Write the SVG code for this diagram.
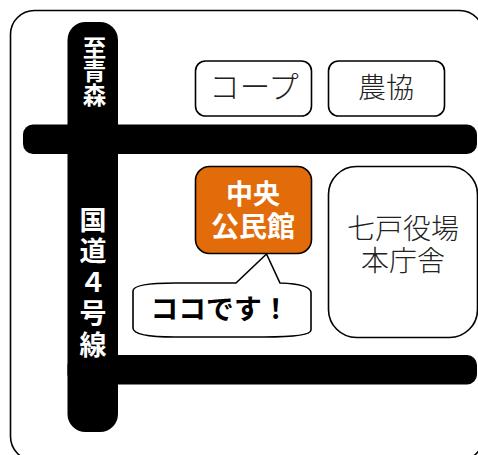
<svg xmlns="http://www.w3.org/2000/svg" width="478" height="455" viewBox="0 0 478 455">
<style>
.f{font-family:"Noto Sans CJK JP","Noto Sans",sans-serif;text-anchor:middle}
.b{fill:#fff;stroke:#000;stroke-width:1.6}
.r{fill:#000}
.w{fill:#fff;font-weight:700}
.l{fill:#222;font-weight:300;font-size:28px}
</style>
<rect width="478" height="455" fill="#fff"/>
<rect id="frame" x="10.500" y="10.500" width="473" height="450" rx="24" fill="#fff" stroke="#000" stroke-width="1.600"/>
<g id="roads">
<rect class="r" x="67.500" y="22" width="50.500" height="410" rx="18"/>
<rect class="r" x="23" y="124.500" width="454" height="29.500" rx="10"/>
<rect class="r" x="67.500" y="355" width="409.500" height="29.500" rx="10"/>
</g>
<g id="road-labels" class="w" font-family="'Noto Sans CJK JP',sans-serif">
<text x="94.500" y="36" font-size="23.500" writing-mode="vertical-rl">至青森</text>
<text x="93" y="206" font-size="27" letter-spacing="4.200" writing-mode="vertical-rl">国道４号線</text>
</g>
<g id="coop"><rect class="b" x="195.500" y="61" width="116" height="55" rx="10"/><text class="f l" x="254" y="98" style="font-size:30.500px">コープ</text></g>
<g id="nokyo"><rect class="b" x="328.500" y="61" width="116" height="55" rx="10"/><text class="f l" x="386" y="98">農協</text></g>
<g id="center"><rect x="195.500" y="166.500" width="116" height="87" rx="14" fill="#e36c0a" stroke="#000" stroke-width="1.600"/>
<text class="f w" x="253" y="204" font-size="27">中央</text><text class="f w" x="253" y="237" font-size="28">公民館</text></g>
<g id="yakuba"><rect class="b" x="328.500" y="166.500" width="149" height="171" rx="28"/>
<text class="f l" x="403" y="239">七戸役場</text><text class="f l" x="403" y="271">本庁舎</text></g>
<g id="callout"><path class="b" d="M266.500 254L280 283Q311 284 311 293V330Q311 337 264 337H175Q133 337 133 328V291Q133 283 175 283H236Z"/>
<text class="f" x="220" y="319" font-size="27.800" font-weight="700" fill="#000">ココです！</text></g>
</svg>
